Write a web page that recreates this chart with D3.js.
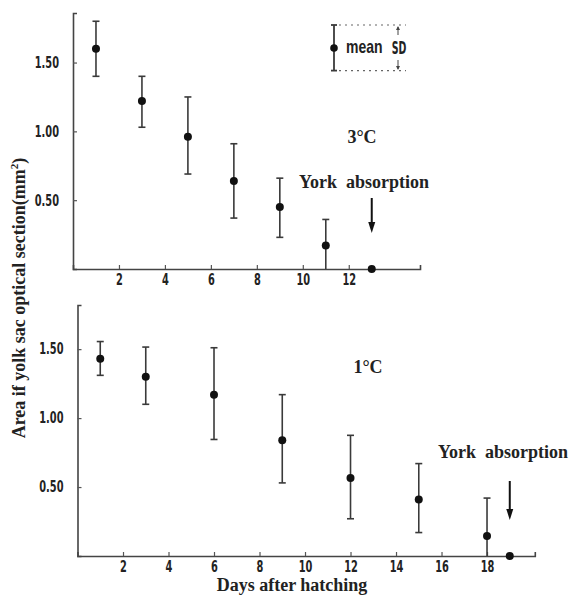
<!DOCTYPE html>
<html><head><meta charset="utf-8">
<script src="https://cdn.jsdelivr.net/npm/d3@7"></script>
<style>body{margin:0;background:#fff}svg{display:block}</style>
</head><body>
<svg id="c" width="570" height="595"></svg>
<script>
// 3°C panel
const days3 = [1, 3, 5, 7, 9, 11, 13];
const mean3 = [1.60, 1.22, 0.96, 0.64, 0.45, 0.17, 0.00];
const upper3 = [1.80, 1.40, 1.25, 0.91, 0.66, 0.36, null];
const lower3 = [1.40, 1.03, 0.69, 0.37, 0.23, 0.00, null];
// 1°C panel
const days1 = [1, 3, 6, 9, 12, 15, 18, 19];
const mean1 = [1.43, 1.30, 1.17, 0.84, 0.565, 0.41, 0.145, 0.00];
const upper1 = [1.555, 1.515, 1.51, 1.17, 0.875, 0.67, 0.42, null];
const lower1 = [1.31, 1.10, 0.845, 0.53, 0.27, 0.17, 0.00, null];
const yTicks = [0.5, 1.0, 1.5];
const yTickLabels = ["0.50", "1.00", "1.50"];
const xTicks3 = [2, 4, 6, 8, 10, 12];
const xTicks1 = [2, 4, 6, 8, 10, 12, 14, 16, 18];

const svg = d3.select("#c");
const ink = "#222", barc = "#3a3a3a";
const tickFont = "'DejaVu Sans Condensed','DejaVu Sans',sans-serif";
const serif = "'Liberation Serif','Times New Roman',serif";
const SX = 0.78, SY = 1.08;

function condense(sel) {
  sel.each(function() {
    const t = d3.select(this);
    const xv = +t.attr("x") || 0, yv = +t.attr("y") || 0;
    t.attr("x", xv / SX).attr("y", yv / SY).attr("transform", `scale(${SX},${SY})`);
  });
}

function panel(cfg) {
  const x = d3.scaleLinear().domain(cfg.xdom).range(cfg.xr);
  const y = d3.scaleLinear().domain(cfg.ydom).range(cfg.yr);
  const g = svg.append("g");
  const ya = d3.axisLeft(y).tickValues(yTicks).tickSize(-4).tickFormat((d,i)=>yTickLabels[i]).tickPadding(14);
  const yg = g.append("g").attr("transform", `translate(${cfg.xr[0]},0)`).call(ya);
  const xa = d3.axisBottom(x).tickValues(cfg.xt).tickSize(-4).tickFormat(d3.format("d")).tickPadding(5);
  const xg = g.append("g").attr("transform", `translate(0,${cfg.yr[0]})`).call(xa);
  [yg, xg].forEach(a => {
    a.select(".domain").attr("stroke", "#444").attr("stroke-width", 1.6);
    a.selectAll(".tick line").attr("stroke", "#555").attr("stroke-width", 1.2);
    a.selectAll("text").attr("fill", ink).attr("font-family", tickFont)
      .attr("font-weight", "bold").attr("font-size", 14).call(condense);
  });
  const pts = cfg.days.map((d, i) => ({d, m: cfg.mean[i], u: cfg.upper[i], l: cfg.lower[i]}));
  const eb = pts.filter(p => p.u !== null);
  const bg = g.append("g").attr("stroke", barc).attr("stroke-width", 1.6);
  bg.selectAll(".v").data(eb).join("line")
    .attr("x1", p => x(p.d)).attr("x2", p => x(p.d))
    .attr("y1", p => y(p.u)).attr("y2", p => y(p.l));
  bg.selectAll(".t").data(eb).join("line")
    .attr("x1", p => x(p.d) - 3.5).attr("x2", p => x(p.d) + 3.5)
    .attr("y1", p => y(p.u)).attr("y2", p => y(p.u));
  bg.selectAll(".b").data(eb.filter(p => p.l > 0)).join("line")
    .attr("x1", p => x(p.d) - 3.5).attr("x2", p => x(p.d) + 3.5)
    .attr("y1", p => y(p.l)).attr("y2", p => y(p.l));
  g.selectAll("circle").data(pts).join("circle")
    .attr("cx", p => x(p.d)).attr("cy", p => y(p.m)).attr("r", 4).attr("fill", "#111");
  return {x, y, g};
}

function arrow(g, xp, y1, y2) {
  g.append("line").attr("x1", xp).attr("x2", xp).attr("y1", y1).attr("y2", y2 - 9)
    .attr("stroke", "#111").attr("stroke-width", 2);
  g.append("path").attr("d", `M${xp-3.5},${y2-11}L${xp+3.5},${y2-11}L${xp},${y2}Z`).attr("fill", "#111");
}

const pTop = panel({xdom:[0,15.1], xr:[73,420], ydom:[0,1.86], yr:[269,13],
  xt:xTicks3, days:days3, mean:mean3, upper:upper3, lower:lower3});
const pBot = panel({xdom:[0,20.1], xr:[77.5,534.8], ydom:[0,1.82], yr:[556,305],
  xt:xTicks1, days:days1, mean:mean1, upper:upper1, lower:lower1});

function label(txt, xp, yp, anchor, size) {
  svg.append("text").attr("x", xp).attr("y", yp).attr("text-anchor", anchor || "start")
    .attr("font-family", serif).attr("font-weight", "bold").attr("font-size", size || 18)
    .attr("fill", ink).attr("xml:space", "preserve").style("white-space", "pre").text(txt);
}
label("3°C", 362, 143, "middle");
label("York  absorption", 299, 188);
arrow(pTop.g, pTop.x(13), 198, 233);
label("1°C", 368, 373, "middle");
label("York  absorption", 438, 458);
arrow(pBot.g, pBot.x(19), 481, 520);
label("Days after hatching", 292, 591, "middle");

const yt = svg.append("text").attr("transform", "translate(25,298) rotate(-90)")
  .attr("text-anchor", "middle").attr("font-family", serif).attr("font-weight", "bold")
  .attr("font-size", 18).attr("fill", ink);
yt.append("tspan").text("Area if yolk sac optical section(mm");
yt.append("tspan").attr("font-size", 11).attr("dy", -7).text("2");
yt.append("tspan").attr("dy", 7).text(")");

const lg = svg.append("g");
lg.append("line").attr("x1",334).attr("x2",334).attr("y1",25).attr("y2",70.6).attr("stroke",barc).attr("stroke-width",1.8);
lg.append("line").attr("x1",331).attr("x2",337).attr("y1",25).attr("y2",25).attr("stroke",barc).attr("stroke-width",1.8);
lg.append("line").attr("x1",331).attr("x2",337).attr("y1",70.6).attr("y2",70.6).attr("stroke",barc).attr("stroke-width",1.8);
lg.append("circle").attr("cx",334).attr("cy",48).attr("r",3.8).attr("fill","#111");
lg.append("line").attr("x1",339).attr("x2",406).attr("y1",25).attr("y2",25).attr("stroke","#666").attr("stroke-width",1.2).attr("stroke-dasharray","2,4");
lg.append("line").attr("x1",339).attr("x2",406).attr("y1",70.6).attr("y2",70.6).attr("stroke","#666").attr("stroke-width",1.2).attr("stroke-dasharray","2,4");
lg.append("text").attr("transform","translate(346,53) scale(1,1.3)").attr("font-family","'Liberation Sans',Arial,sans-serif")
  .attr("font-weight","bold").attr("font-size",14).attr("fill",ink).text("mean");
lg.append("text").attr("transform","translate(399,54) scale(0.75,1.25)").attr("text-anchor","middle").attr("font-family",tickFont)
  .attr("font-weight","bold").attr("font-size",14).attr("fill",ink).text("SD");
lg.append("line").attr("x1",398).attr("x2",398).attr("y1",27).attr("y2",35).attr("stroke","#444").attr("stroke-width",1);
lg.append("path").attr("d","M396,30L400,30L398,26Z").attr("fill","#444");
lg.append("line").attr("x1",398).attr("x2",398).attr("y1",60).attr("y2",69).attr("stroke","#444").attr("stroke-width",1);
lg.append("path").attr("d","M396,66L400,66L398,70Z").attr("fill","#444");
</script>
</body></html>
